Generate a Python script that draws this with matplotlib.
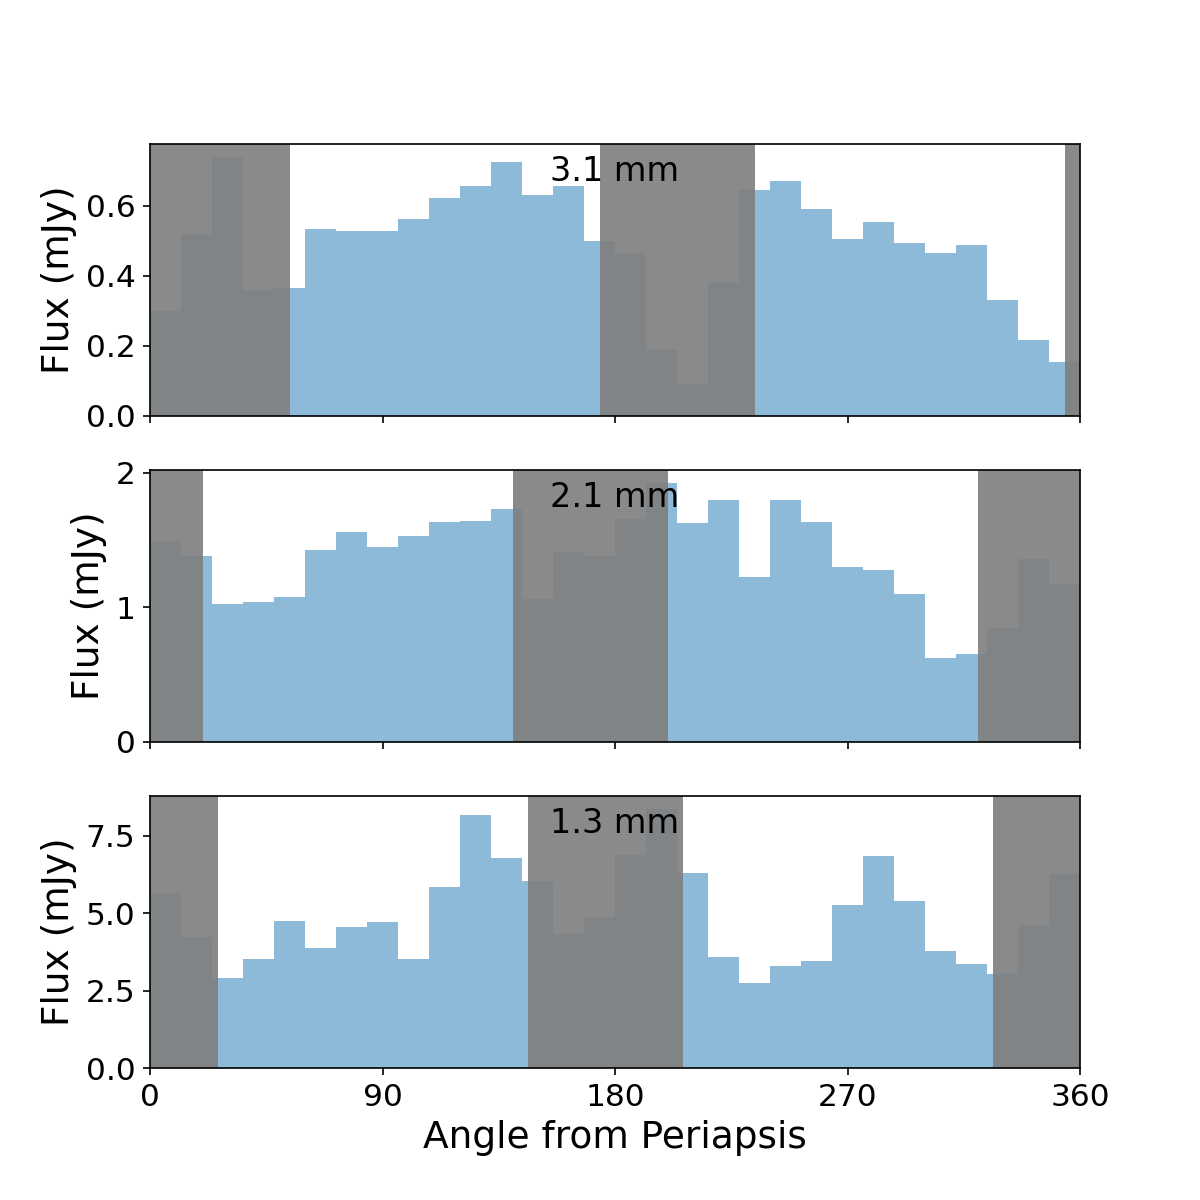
import matplotlib
matplotlib.use("Agg")
import matplotlib.pyplot as plt
import numpy as np

# Flux per 12-degree bin of angle from periapsis, one list per wavelength
bandas = ["3.1 mm", "2.1 mm", "1.3 mm"]
angulos_izq = np.arange(0, 360, 12)

flujo_31 = [0.30, 0.52, 0.74, 0.36, 0.365, 0.533, 0.529, 0.529, 0.562, 0.622,
            0.656, 0.726, 0.632, 0.656, 0.50, 0.465, 0.187, 0.091, 0.383, 0.646,
            0.670, 0.591, 0.505, 0.553, 0.493, 0.464, 0.488, 0.330, 0.217, 0.155]
flujo_21 = [1.49, 1.38, 1.022, 1.042, 1.079, 1.425, 1.558, 1.447, 1.533, 1.635,
            1.64, 1.731, 1.059, 1.41, 1.38, 1.655, 1.924, 1.627, 1.80, 1.227,
            1.80, 1.635, 1.301, 1.281, 1.101, 0.627, 0.657, 0.849, 1.358, 1.174]
flujo_13 = [5.65, 4.23, 2.90, 3.52, 4.75, 3.87, 4.54, 4.70, 3.52, 5.86,
            8.18, 6.78, 6.05, 4.33, 4.89, 6.87, 8.36, 6.29, 3.58, 2.76,
            3.30, 3.44, 5.27, 6.86, 5.41, 3.78, 3.36, 3.04, 4.62, 6.26]

# Masked angle ranges (gray bands)
zonas_31 = [(0, 54), (174, 234), (354, 360)]
zonas_21 = [(0, 20.5), (140.5, 200.5), (320.5, 360)]
zonas_13 = [(0, 26.5), (146.5, 206.5), (326.5, 360)]

flujos = [flujo_31, flujo_21, flujo_13]
zonas = [zonas_31, zonas_21, zonas_13]

fig, axes = plt.subplots(3, 1, sharex=True, figsize=(8, 8))

for ax, banda, flujo, zona in zip(axes, bandas, flujos, zonas):
    ax.bar(angulos_izq, flujo, width=12, align="edge", color="C0", alpha=0.5,
           linewidth=0)
    for a, b in zona:
        ax.axvspan(a, b, color="gray", alpha=0.92, linewidth=0)
    ax.text(0.5, 0.9, banda, transform=ax.transAxes, ha="center", va="center",
            fontsize=16)
    ax.set_ylabel("Flux (mJy)", fontsize=18)
    ax.tick_params(labelsize=15)
    ax.set_xlim(0, 360)

axes[0].set_yticks([0.0, 0.2, 0.4, 0.6])
axes[1].set_yticks([0, 1, 2])
axes[2].set_yticks([0.0, 2.5, 5.0, 7.5])
axes[2].set_xticks([0, 90, 180, 270, 360])
axes[2].set_xlabel("Angle from Periapsis", fontsize=18)

plt.savefig("out.png", dpi=150)
